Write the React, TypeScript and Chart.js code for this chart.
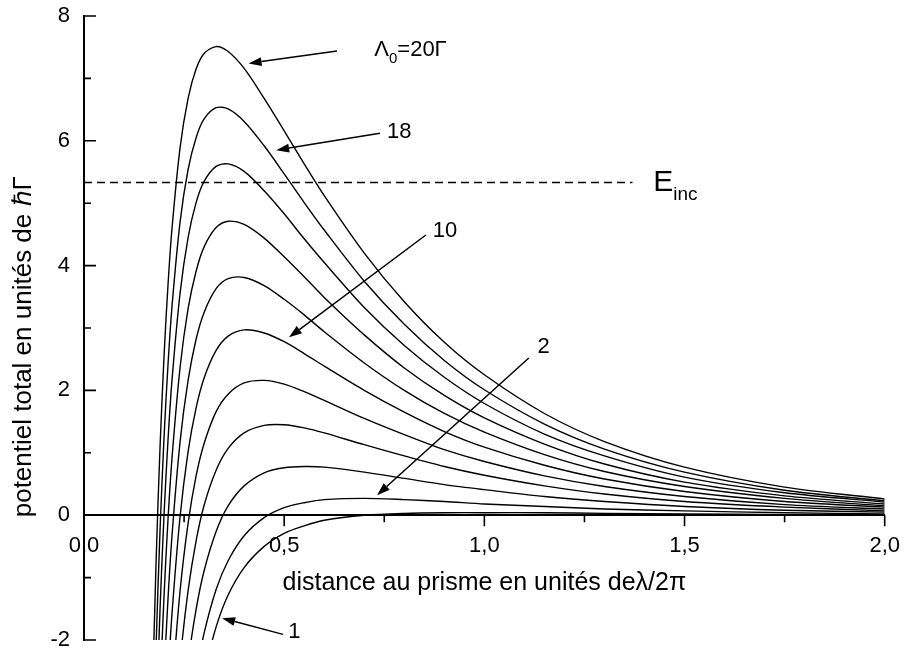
import React, { useEffect, useRef } from 'react';
import { Chart, registerables } from 'chart.js';

Chart.register(...registerables);

const FONT = '"Liberation Sans", Arial, Helvetica, sans-serif';

// distance au prisme (units of lambda/2pi) — common sampling positions
const zGrid = [0.17, 0.18, 0.19, 0.2, 0.21, 0.22, 0.24, 0.26, 0.28, 0.3, 0.33, 0.36, 0.4, 0.45, 0.5, 0.55, 0.6, 0.7, 0.8, 0.9, 1.0, 1.15, 1.3, 1.5, 1.75, 2.0];

// Lambda_0 of each curve (units of Gamma)
const curveLambda = [20, 18, 16, 14, 12, 10, 8, 6, 4, 2, 1];

// total potential (units of hbar Gamma)
const u20 = [-3.14, -0.75, 1.1, 2.56, 3.71, 4.61, 5.89, 6.68, 7.15, 7.4, 7.51, 7.43, 7.16, 6.68, 6.16, 5.63, 5.12, 4.2, 3.42, 2.77, 2.25, 1.63, 1.18, 0.77, 0.45, 0.26];
const u18 = [-4.53, -2.11, -0.23, 1.26, 2.43, 3.36, 4.7, 5.54, 6.05, 6.35, 6.53, 6.51, 6.31, 5.92, 5.47, 5.01, 4.57, 3.75, 3.06, 2.48, 2.01, 1.46, 1.06, 0.69, 0.4, 0.23];
const u16 = [null, -3.4, -1.49, 0.02, 1.22, 2.18, 3.56, 4.45, 5.01, 5.35, 5.59, 5.63, 5.51, 5.2, 4.83, 4.43, 4.05, 3.33, 2.72, 2.21, 1.79, 1.3, 0.95, 0.61, 0.36, 0.21];
const u14 = [null, -4.76, -2.82, -1.28, -0.05, 0.93, 2.37, 3.31, 3.91, 4.3, 4.61, 4.71, 4.66, 4.44, 4.14, 3.82, 3.49, 2.89, 2.36, 1.92, 1.56, 1.14, 0.82, 0.53, 0.31, 0.18];
const u12 = [null, null, -4.15, -2.58, -1.32, -0.31, 1.18, 2.16, 2.82, 3.25, 3.63, 3.79, 3.81, 3.68, 3.46, 3.21, 2.94, 2.44, 2.0, 1.63, 1.33, 0.97, 0.7, 0.46, 0.27, 0.15];
const u10 = [null, null, null, -3.88, -2.6, -1.56, -0.02, 1.02, 1.72, 2.2, 2.64, 2.87, 2.97, 2.92, 2.78, 2.59, 2.39, 2.0, 1.65, 1.34, 1.09, 0.8, 0.58, 0.38, 0.22, 0.13];
const u8 = [null, null, null, null, -3.87, -2.8, -1.21, -0.13, 0.63, 1.15, 1.66, 1.94, 2.12, 2.16, 2.1, 1.98, 1.84, 1.55, 1.29, 1.05, 0.86, 0.63, 0.46, 0.3, 0.17, 0.1];
const u6 = [null, null, null, null, null, -3.99, -2.35, -1.21, -0.41, 0.16, 0.72, 1.07, 1.32, 1.44, 1.45, 1.4, 1.32, 1.13, 0.95, 0.78, 0.64, 0.47, 0.34, 0.22, 0.13, 0.07];
const u4 = [null, null, null, null, null, null, -3.54, -2.36, -1.51, -0.89, -0.26, 0.15, 0.47, 0.68, 0.76, 0.78, 0.77, 0.69, 0.59, 0.49, 0.41, 0.3, 0.22, 0.14, 0.08, 0.05];
const u2 = [null, null, null, null, null, null, null, -3.44, -2.55, -1.89, -1.19, -0.73, -0.33, -0.04, 0.12, 0.2, 0.25, 0.27, 0.25, 0.22, 0.18, 0.14, 0.1, 0.07, 0.04, 0.02];
const u1 = [null, null, null, null, null, null, null, null, null, -2.52, -1.79, -1.28, -0.84, -0.5, -0.29, -0.17, -0.08, 0.0, 0.03, 0.04, 0.04, 0.04, 0.03, 0.02, 0.01, 0.0];

const curveSeries = [u20, u18, u16, u14, u12, u10, u8, u6, u4, u2, u1];

// incident energy (dashed line)
const eIncValue = 5.33;
const eIncRange = [0, 1.37];

// tick positions / labels
const xTickValues = [0, 0.25, 0.5, 0.75, 1.0, 1.25, 1.5, 1.75, 2.0];
const yTickValues = [-2, -1, 0, 1, 2, 3, 4, 5, 6, 7, 8];
const xTitle = 'distance au prisme en unités deλ/2π';
const yTitle = 'potentiel total en unités de ℏΓ';

// annotation arrows (data coordinates: from -> arrow head)
const arrowFrom = [[0.632, 7.44], [0.739, 6.12], [0.854, 4.49], [1.111, 2.52], [0.497, -1.91]];
const arrowTo = [[0.411, 7.24], [0.48, 5.85], [0.512, 2.85], [0.732, 0.32], [0.345, -1.65]];

// annotation texts (data coordinates of left/middle)
const noteAt = [[0.725, 7.46], [0.757, 6.14], [0.871, 4.55], [1.133, 2.69], [0.51, -1.87], [1.422, 5.33]];
const noteSegments = [
  [{ t: 'Λ', s: 22, dy: 0 }, { t: '0', s: 15, dy: 9 }, { t: '=20Γ', s: 22, dy: 0 }],
  [{ t: '18', s: 22, dy: 0 }],
  [{ t: '10', s: 22, dy: 0 }],
  [{ t: '2', s: 22, dy: 0 }],
  [{ t: '1', s: 22, dy: 0 }],
  [{ t: 'E', s: 30, dy: 0 }, { t: 'inc', s: 19, dy: 12 }],
];

const decorPlugin = {
  id: 'decor',
  afterDraw(chart: any) {
    const { ctx } = chart;
    const xs = chart.scales.x;
    const ys = chart.scales.y;
    const x0 = xs.getPixelForValue(0);
    const y0 = ys.getPixelForValue(0);
    ctx.save();
    ctx.strokeStyle = '#000';
    ctx.fillStyle = '#000';
    ctx.lineWidth = 1.6;
    ctx.beginPath();
    yTickValues.forEach((v) => {
      const p = ys.getPixelForValue(v);
      const len = v % 2 === 0 ? 12 : 7;
      ctx.moveTo(x0, p);
      ctx.lineTo(x0 + len, p);
    });
    xTickValues.forEach((v) => {
      const p = xs.getPixelForValue(v);
      const major = Math.round(v * 100) % 50 === 0;
      ctx.moveTo(p, y0);
      ctx.lineTo(p, y0 + (major ? 11 : 7));
    });
    ctx.stroke();

    // y title
    ctx.save();
    ctx.translate(24, ys.getPixelForValue(2.7));
    ctx.rotate(-Math.PI / 2);
    ctx.font = `26px ${FONT}`;
    ctx.textAlign = 'center';
    ctx.textBaseline = 'middle';
    ctx.fillText(yTitle, 0, 0);
    ctx.restore();

    // arrows
    ctx.lineWidth = 1.5;
    arrowFrom.forEach((f, i) => {
      const t = arrowTo[i];
      const fx = xs.getPixelForValue(f[0]);
      const fy = ys.getPixelForValue(f[1]);
      const tx = xs.getPixelForValue(t[0]);
      const ty = ys.getPixelForValue(t[1]);
      const ang = Math.atan2(ty - fy, tx - fx);
      const hl = 13;
      const hw = 4.5;
      const bx = tx - hl * Math.cos(ang);
      const by = ty - hl * Math.sin(ang);
      ctx.beginPath();
      ctx.moveTo(fx, fy);
      ctx.lineTo(bx, by);
      ctx.stroke();
      ctx.beginPath();
      ctx.moveTo(tx, ty);
      ctx.lineTo(bx + hw * Math.sin(ang), by - hw * Math.cos(ang));
      ctx.lineTo(bx - hw * Math.sin(ang), by + hw * Math.cos(ang));
      ctx.closePath();
      ctx.fill();
    });

    // texts
    ctx.textAlign = 'left';
    ctx.textBaseline = 'middle';
    noteAt.forEach((pos, i) => {
      let px = xs.getPixelForValue(pos[0]);
      const py = ys.getPixelForValue(pos[1]);
      noteSegments[i].forEach((seg) => {
        ctx.font = `${seg.s}px ${FONT}`;
        ctx.fillText(seg.t, px, py + seg.dy);
        px += ctx.measureText(seg.t).width;
      });
    });
    ctx.restore();
  },
};

export default function App() {
  const ref = useRef<HTMLCanvasElement>(null);

  useEffect(() => {
    document.body.style.margin = '0';
    const curveSets = curveSeries.map((arr, i) => ({
      label: `Λ0=${curveLambda[i]}Γ`,
      data: zGrid
        .map((z, j) => (arr[j] === null ? null : { x: z, y: arr[j] as number }))
        .filter((p) => p !== null),
      borderColor: '#000',
      borderWidth: 1.4,
      pointRadius: 0,
      fill: false,
      tension: 0.3,
    }));
    const dashed = {
      label: 'Einc',
      data: eIncRange.map((x) => ({ x, y: eIncValue })),
      borderColor: '#000',
      borderWidth: 1.5,
      borderDash: [8, 5],
      pointRadius: 0,
      fill: false,
    };
    const chart = new Chart(ref.current as HTMLCanvasElement, {
      type: 'line',
      data: { datasets: [...curveSets, dashed] as any },
      options: {
        responsive: false,
        animation: false,
        layout: { padding: { left: 0, right: 17, top: 16, bottom: 10 } },
        plugins: { legend: { display: false }, tooltip: { enabled: false } },
        scales: {
          x: {
            type: 'linear',
            min: 0,
            max: 2,
            position: { y: 0 } as any,
            border: { display: true, color: '#000', width: 2 },
            grid: { display: false, drawTicks: false },
            ticks: {
              stepSize: 0.5,
              padding: 18,
              color: '#000',
              maxRotation: 0,
              autoSkip: false,
              font: { family: FONT, size: 22 },
              callback: (v: any) => Number(v).toFixed(1).replace('.', ','),
            },
            title: {
              display: true,
              text: xTitle,
              color: '#000',
              font: { family: FONT, size: 25 },
              padding: 0,
            },
            afterFit: (s: any) => {
              s.height = 83;
            },
          },
          y: {
            type: 'linear',
            min: -2,
            max: 8,
            position: 'left',
            border: { display: true, color: '#000', width: 2 },
            grid: { display: false, drawTicks: true, tickLength: 14 },
            ticks: {
              stepSize: 2,
              padding: 0,
              color: '#000',
              font: { family: FONT, size: 22, lineHeight: 0.9 },
              callback: (v: any) => String(v),
            },
            afterFit: (s: any) => {
              s.width = 84;
            },
          },
        },
      },
      plugins: [decorPlugin],
    });
    return () => chart.destroy();
  }, []);

  return (
    <div style={{ width: 918, height: 650 }}>
      <canvas ref={ref} width={918} height={650} style={{ display: 'block' }} />
    </div>
  );
}
